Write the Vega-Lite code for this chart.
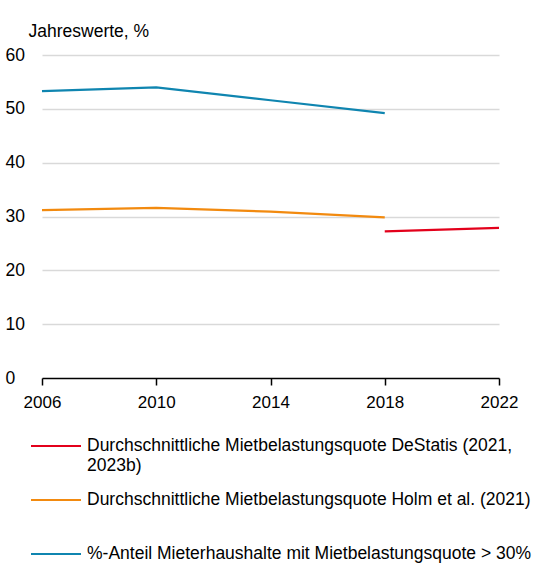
{
  "$schema": "https://vega.github.io/schema/vega-lite/v6.json",
  "autosize": {"type": "none"},
  "width": 457,
  "height": 323,
  "padding": {"left": 42, "top": 55, "right": 43, "bottom": 188},
  "config": {
    "font": "Liberation Sans",
    "view": {"stroke": null}
  },
  "data": {
    "values": [
      {"year": 2006, "value": 53.3, "series": "%-Anteil Mieterhaushalte mit Mietbelastungsquote > 30%"},
      {"year": 2010, "value": 54.0, "series": "%-Anteil Mieterhaushalte mit Mietbelastungsquote > 30%"},
      {"year": 2014, "value": 51.6, "series": "%-Anteil Mieterhaushalte mit Mietbelastungsquote > 30%"},
      {"year": 2018, "value": 49.2, "series": "%-Anteil Mieterhaushalte mit Mietbelastungsquote > 30%"},
      {"year": 2006, "value": 31.2, "series": "Durchschnittliche Mietbelastungsquote Holm et al. (2021)"},
      {"year": 2010, "value": 31.6, "series": "Durchschnittliche Mietbelastungsquote Holm et al. (2021)"},
      {"year": 2014, "value": 30.9, "series": "Durchschnittliche Mietbelastungsquote Holm et al. (2021)"},
      {"year": 2018, "value": 29.85, "series": "Durchschnittliche Mietbelastungsquote Holm et al. (2021)"},
      {"year": 2018, "value": 27.25, "series": "Durchschnittliche Mietbelastungsquote DeStatis (2021, 2023b)"},
      {"year": 2022, "value": 27.9, "series": "Durchschnittliche Mietbelastungsquote DeStatis (2021, 2023b)"}
    ]
  },
  "mark": {"type": "line", "strokeWidth": 2.2},
  "encoding": {
    "x": {
      "field": "year",
      "type": "quantitative",
      "scale": {"domain": [2006, 2022], "nice": false, "zero": false},
      "axis": {
        "title": null,
        "values": [2006, 2010, 2014, 2018, 2022],
        "format": "d",
        "grid": false,
        "domainColor": "#000000",
        "domainWidth": 1.5,
        "tickColor": "#000000",
        "tickWidth": 1.5,
        "tickSize": 7,
        "labelFontSize": 17,
        "labelColor": "#000000",
        "labelPadding": 9,
        "labelFlush": false
      }
    },
    "y": {
      "field": "value",
      "type": "quantitative",
      "scale": {"domain": [0, 60], "nice": false},
      "axis": {
        "title": "Jahreswerte, %",
        "titleAngle": 0,
        "titleAlign": "left",
        "titleBaseline": "middle",
        "titleX": -14,
        "titleY": -24,
        "titleFontSize": 17.5,
        "titleFontWeight": "normal",
        "titleColor": "#000000",
        "values": [0, 10, 20, 30, 40, 50, 60],
        "domain": false,
        "ticks": false,
        "tickSize": 0,
        "labelAlign": "left",
        "labelPadding": 37,
        "labelFontSize": 17.5,
        "labelColor": "#000000",
        "gridColor": "#d9d9d9",
        "gridWidth": 1.5,
        "gridOpacity": {"condition": {"test": "datum.value == 0", "value": 0}, "value": 1}
      }
    },
    "color": {
      "field": "series",
      "type": "nominal",
      "scale": {
        "domain": [
          "Durchschnittliche Mietbelastungsquote DeStatis (2021, 2023b)",
          "Durchschnittliche Mietbelastungsquote Holm et al. (2021)",
          "%-Anteil Mieterhaushalte mit Mietbelastungsquote > 30%"
        ],
        "range": ["#e3001b", "#f28a0f", "#0f85b0"]
      },
      "legend": {
        "title": null,
        "orient": "none",
        "legendX": -12,
        "legendY": 365,
        "direction": "vertical",
        "symbolType": "stroke",
        "symbolSize": 2500,
        "symbolStrokeWidth": 2,
        "labelFontSize": 17.5,
        "labelColor": "#000000",
        "labelLimit": 600,
        "labelOffset": 5,
        "labelBaseline": "middle",
        "labelLineHeight": 25,
        "rowPadding": -2,
        "labelExpr": "indexof(datum.label, 'DeStatis') >= 0 ? ['Durchschnittliche Mietbelastungsquote DeStatis (2021,', '2023b)'] : [datum.label, ' ']"
      }
    }
  }
}
